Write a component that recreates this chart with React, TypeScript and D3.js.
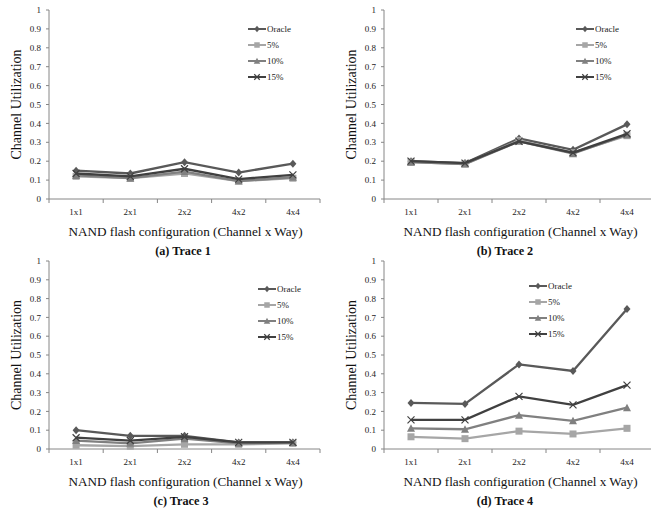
import React, { useEffect, useRef } from 'react';
import * as d3 from 'd3';

const configs = ['1x1', '2x1', '2x2', '4x2', '4x4'];
const seriesNames = ['Oracle', '5%', '10%', '15%'];
const yTicks = [0, 0.1, 0.2, 0.3, 0.4, 0.5, 0.6, 0.7, 0.8, 0.9, 1];

const trace1 = [
    [0.15, 0.135, 0.195, 0.14, 0.187],
    [0.12, 0.11, 0.135, 0.095, 0.11],
    [0.125, 0.11, 0.145, 0.095, 0.115],
    [0.135, 0.12, 0.16, 0.105, 0.128],
];
const trace2 = [
    [0.2, 0.19, 0.32, 0.26, 0.395],
    [0.195, 0.185, 0.31, 0.245, 0.335],
    [0.195, 0.185, 0.305, 0.24, 0.34],
    [0.2, 0.19, 0.305, 0.245, 0.345],
];
const trace3 = [
    [0.1, 0.07, 0.07, 0.035, 0.035],
    [0.02, 0.015, 0.025, 0.025, 0.03],
    [0.045, 0.03, 0.055, 0.03, 0.035],
    [0.06, 0.045, 0.065, 0.035, 0.035],
];
const trace4 = [
    [0.245, 0.24, 0.45, 0.415, 0.745],
    [0.065, 0.055, 0.095, 0.08, 0.11],
    [0.11, 0.105, 0.18, 0.15, 0.22],
    [0.155, 0.155, 0.28, 0.235, 0.34],
];

const captions = ['(a) Trace 1', '(b) Trace 2', '(c) Trace 3', '(d) Trace 4'];

const colors = ['#595959', '#a6a6a6', '#808080', '#404040'];

const panels = [
    { data: trace1, x0: 49, x1: 320, top: 10, bottom: 199, legX: 248, legY: 29, capX: 183 },
    { data: trace2, x0: 384, x1: 654, top: 10, bottom: 199, legX: 576, legY: 29, capX: 505 },
    { data: trace3, x0: 49, x1: 320, top: 261, bottom: 449, legX: 258, legY: 289, capX: 181 },
    { data: trace4, x0: 384, x1: 654, top: 261, bottom: 449, legX: 529, legY: 286, capX: 505 },
];

const FONT = '"Liberation Serif", "Times New Roman", serif';

// kind: 0 diamond, 1 square, 2 triangle, 3 cross
function drawMarker(g: any, kind: number, x: number, y: number, color: string, s: number) {
    const h = s / 2;
    if (kind === 0) {
        g.append('path')
            .attr('d', `M${x},${y - h - 0.5}L${x + h},${y}L${x},${y + h + 0.5}L${x - h},${y}Z`)
            .attr('fill', color);
    } else if (kind === 1) {
        g.append('rect')
            .attr('x', x - h).attr('y', y - h)
            .attr('width', s).attr('height', s)
            .attr('fill', color);
    } else if (kind === 2) {
        g.append('path')
            .attr('d', `M${x},${y - h - 0.5}L${x + h + 0.5},${y + h}L${x - h - 0.5},${y + h}Z`)
            .attr('fill', color);
    } else {
        g.append('path')
            .attr('d', `M${x - h},${y - h}L${x + h},${y + h}M${x - h},${y + h}L${x + h},${y - h}`)
            .attr('stroke', color)
            .attr('stroke-width', 1.2)
            .attr('fill', 'none');
    }
}

const App: React.FC = () => {
    const ref = useRef<SVGSVGElement>(null);

    useEffect(() => {
        const svg = d3.select(ref.current);
        svg.selectAll('*').remove();
        svg.append('rect').attr('width', 651).attr('height', 516).attr('fill', '#fff');

        panels.forEach((p, pi) => {
            const g = svg.append('g');
            const x = d3.scaleBand().domain(configs).range([p.x0, p.x1]);
            const y = d3.scaleLinear().domain([0, 1]).range([p.bottom, p.top]);
            const cxOf = (c: string) => (x(c) as number) + x.bandwidth() / 2;

            // y axis
            g.append('line')
                .attr('x1', p.x0).attr('x2', p.x0)
                .attr('y1', p.top).attr('y2', p.bottom)
                .attr('stroke', '#868686');
            g.selectAll('.yt')
                .data(yTicks)
                .enter().append('line')
                .attr('x1', p.x0 - 3).attr('x2', p.x0)
                .attr('y1', d => y(d)).attr('y2', d => y(d))
                .attr('stroke', '#868686');
            g.selectAll('.yl')
                .data(yTicks)
                .enter().append('text')
                .attr('x', p.x0 - 8)
                .attr('y', d => y(d))
                .attr('dy', '0.35em')
                .attr('text-anchor', 'end')
                .attr('font-family', FONT)
                .attr('font-size', 9)
                .attr('fill', '#222')
                .text(d => String(d));

            // x axis
            g.append('line')
                .attr('x1', p.x0).attr('x2', p.x1)
                .attr('y1', p.bottom).attr('y2', p.bottom)
                .attr('stroke', '#868686');
            const bounds = configs.map(c => x(c) as number).concat([p.x1]);
            g.selectAll('.xt')
                .data(bounds)
                .enter().append('line')
                .attr('x1', d => d).attr('x2', d => d)
                .attr('y1', p.bottom).attr('y2', p.bottom + 4)
                .attr('stroke', '#868686');
            g.selectAll('.xl')
                .data(configs)
                .enter().append('text')
                .attr('x', d => cxOf(d))
                .attr('y', p.bottom + 16)
                .attr('text-anchor', 'middle')
                .attr('font-family', FONT)
                .attr('font-size', 9)
                .attr('fill', '#222')
                .text(d => d);

            // titles
            const cx = (p.x0 + Math.min(p.x1, 651)) / 2 + (pi % 2 === 1 ? 3 : 1);
            g.append('text')
                .attr('x', cx)
                .attr('y', p.bottom + 37)
                .attr('text-anchor', 'middle')
                .attr('font-family', FONT)
                .attr('font-size', 13.2)
                .attr('fill', '#111')
                .text('NAND flash configuration (Channel x Way)');
            g.append('text')
                .attr('x', p.capX)
                .attr('y', p.bottom + 56)
                .attr('text-anchor', 'middle')
                .attr('font-family', FONT)
                .attr('font-size', 12.2)
                .attr('font-weight', 'bold')
                .attr('fill', '#111')
                .text(captions[pi]);
            g.append('text')
                .attr('transform', `translate(${p.x0 - 28},${(p.top + p.bottom) / 2}) rotate(-90)`)
                .attr('text-anchor', 'middle')
                .attr('font-family', FONT)
                .attr('font-size', 14)
                .attr('fill', '#111')
                .text('Channel Utilization');

            // series
            const line = d3.line<number>()
                .x((_, i) => cxOf(configs[i]))
                .y(d => y(d));
            p.data.forEach((vals, si) => {
                g.append('path')
                    .attr('d', line(vals))
                    .attr('fill', 'none')
                    .attr('stroke', colors[si])
                    .attr('stroke-width', 2.3);
                vals.forEach((v, i) => {
                    drawMarker(g, si, cxOf(configs[i]), y(v), colors[si], 7);
                });
            });

            // legend
            seriesNames.forEach((name, si) => {
                const ly = p.legY + si * 16;
                g.append('line')
                    .attr('x1', p.legX).attr('x2', p.legX + 18)
                    .attr('y1', ly).attr('y2', ly)
                    .attr('stroke', colors[si])
                    .attr('stroke-width', 2);
                drawMarker(g, si, p.legX + 9, ly, colors[si], 5.5);
                g.append('text')
                    .attr('x', p.legX + 19)
                    .attr('y', ly)
                    .attr('dy', '0.35em')
                    .attr('font-family', FONT)
                    .attr('font-size', 9)
                    .attr('fill', '#222')
                    .text(name);
            });
        });
    }, []);

    return (
        <svg ref={ref} width={651} height={516}
            style={{ position: 'absolute', left: 0, top: 0 }} />
    );
};

export default App;
